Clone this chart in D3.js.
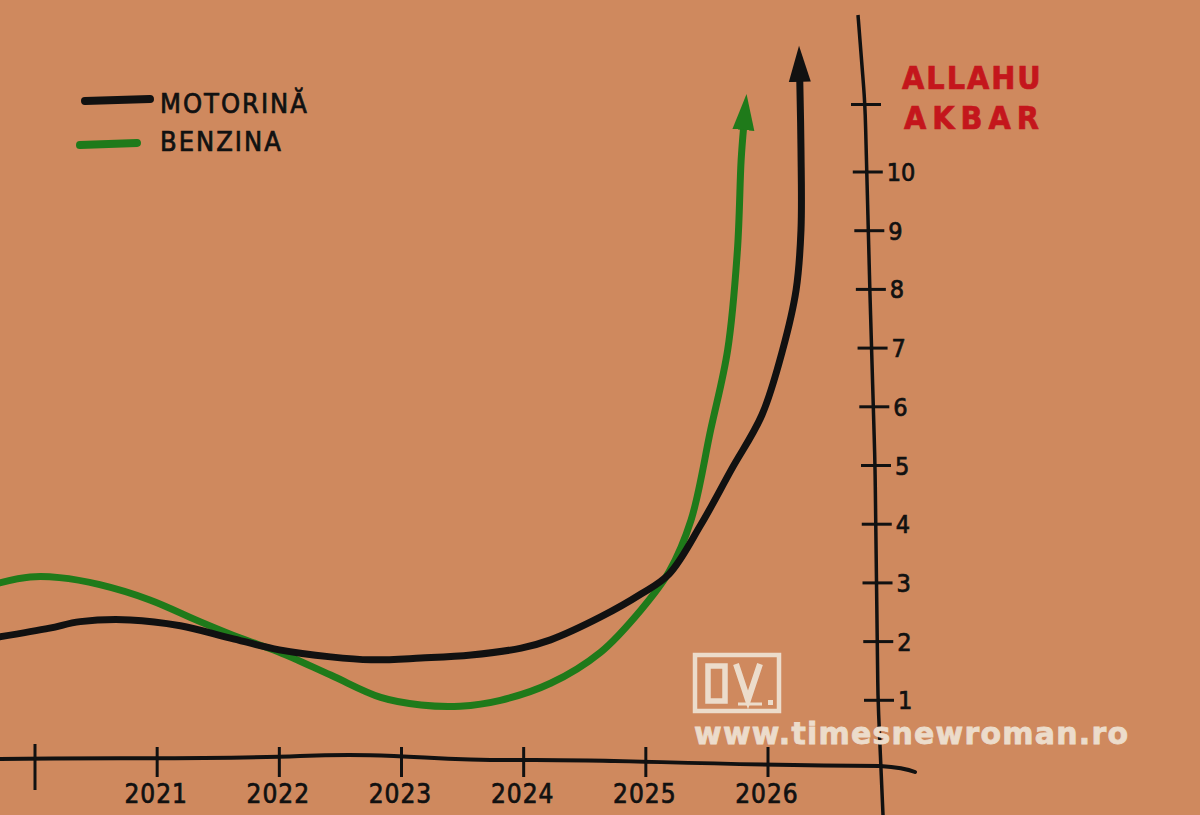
<!DOCTYPE html>
<html>
<head>
<meta charset="utf-8">
<script src="https://cdn.jsdelivr.net/npm/d3@7"></script>
<style>
  body { margin: 0; background: #cf895e; }
  svg { display: block; }
  .hand { font-family: "DejaVu Sans Condensed", "DejaVu Sans", sans-serif; }
  .hand text { stroke: currentColor; stroke-width: 0.7px; }
</style>
</head>
<body>
<div id="chart"></div>
<script>
const yearTicks = [2020, 2021, 2022, 2023, 2024, 2025, 2026];
const yearLabels = ["", "2021", "2022", "2023", "2024", "2025", "2026"];
const valueTicks = [1, 2, 3, 4, 5, 6, 7, 8, 9, 10, 11.15];
const valueLabels = ["1", "2", "3", "4", "5", "6", "7", "8", "9", "10", ""];

const motorinaYears = [2019.71, 2020.12, 2020.37, 2020.78, 2021.19, 2021.6, 2022.0, 2022.42, 2022.75,
  2023.16, 2023.57, 2023.98, 2024.22, 2024.63, 2024.96, 2025.19, 2025.45, 2025.7, 2025.95,
  2026.12, 2026.23, 2026.27, 2026.27, 2026.26];
const motorinaValues = [2.08, 2.23, 2.34, 2.37, 2.27, 2.06, 1.86, 1.74, 1.69, 1.72, 1.77, 1.89, 2.03,
  2.42, 2.81, 3.15, 3.99, 4.93, 5.86, 6.97, 7.99, 9.01, 10.38, 11.57];

const benzinaYears = [2019.71, 2019.96, 2020.2, 2020.53, 2020.94, 2021.35, 2021.68, 2022.0, 2022.42,
  2022.83, 2023.16, 2023.48, 2023.81, 2024.22, 2024.63, 2024.96, 2025.19, 2025.37, 2025.53,
  2025.67, 2025.75, 2025.78, 2025.8];
const benzinaValues = [3.0, 3.1, 3.09, 2.97, 2.71, 2.34, 2.06, 1.82, 1.43, 1.05, 0.92, 0.9, 1.0,
  1.29, 1.82, 2.54, 3.19, 4.07, 5.6, 6.97, 8.68, 10.2, 10.75];

const seriesNames = ["MOTORINĂ", "BENZINA"];
const seriesColors = ["#111111", "#1f7a1a"];

/* Chart parameters. */
const chartParams = { width: 1200, height: 815 };

const svg = d3.select("#chart")
  .append("svg")
  .attr("width", chartParams.width)
  .attr("height", chartParams.height);

svg.append("rect")
  .attr("width", chartParams.width)
  .attr("height", chartParams.height)
  .attr("fill", "#cf895e");

/* Scales: years left to right, price bottom to top. */
const x = d3.scaleLinear().domain([2020, 2026]).range([35, 768]);
const y = d3.scaleLinear().domain([0, 10]).range([759, 172]);

/* The y axis leans and bends a little, like a hand-drawn stroke. */
const axisXAt = d3.scaleLinear()
  .domain([15, 104, 295, 464, 700, 815])
  .range([858, 865, 870, 875, 878, 883]);

/* Arrow heads for the runaway curves. */
const defs = svg.append("defs");
seriesColors.forEach((c, i) => {
  defs.append("marker")
    .attr("id", "arrow" + i)
    .attr("markerUnits", "userSpaceOnUse")
    .attr("viewBox", "0 0 40 24")
    .attr("refX", 2)
    .attr("refY", 12)
    .attr("markerWidth", 40)
    .attr("markerHeight", 24)
    .attr("orient", "auto")
    .append("path")
    .attr("d", "M0,1 L36,12 L0,23 Z")
    .attr("fill", c);
});

/* X axis: a wobbly baseline. */
svg.append("path")
  .attr("d", "M0,759 C120,757 200,760 300,756 S430,761 520,760 S700,765 880,766 C895,767 905,768 915,772")
  .attr("fill", "none")
  .attr("stroke", "#111")
  .attr("stroke-width", 4)
  .attr("stroke-linecap", "round");

const xTicks = svg.append("g").attr("class", "hand").attr("color", "#111");
xTicks.selectAll("line")
  .data(yearTicks)
  .enter()
  .append("line")
  .attr("x1", d => x(d))
  .attr("x2", d => x(d))
  .attr("y1", (d, i) => i === 0 ? 744 : 747)
  .attr("y2", (d, i) => i === 0 ? 790 : 777)
  .attr("stroke", "#111")
  .attr("stroke-width", 3);
xTicks.selectAll("text")
  .data(yearTicks)
  .enter()
  .append("text")
  .attr("x", d => x(d) - 1)
  .attr("y", 803)
  .attr("text-anchor", "middle")
  .attr("font-size", 26)
  .attr("letter-spacing", 1)
  .attr("fill", "#111")
  .text((d, i) => yearLabels[i]);

/* Y axis. */
svg.append("path")
  .datum(d3.range(15, 816, 20))
  .attr("d", d3.line().x(d => axisXAt(d)).y(d => d).curve(d3.curveBasis))
  .attr("fill", "none")
  .attr("stroke", "#111")
  .attr("stroke-width", 3.5);

const yTicks = svg.append("g").attr("class", "hand").attr("color", "#111");
yTicks.selectAll("line")
  .data(valueTicks)
  .enter()
  .append("line")
  .attr("x1", d => axisXAt(y(d)) - 14)
  .attr("x2", d => axisXAt(y(d)) + 16)
  .attr("y1", d => y(d))
  .attr("y2", d => y(d))
  .attr("stroke", "#111")
  .attr("stroke-width", 3);
yTicks.selectAll("text")
  .data(valueTicks)
  .enter()
  .append("text")
  .attr("x", d => axisXAt(y(d)) + 20)
  .attr("y", d => y(d) + 9)
  .attr("font-size", 25)
  .attr("fill", "#111")
  .text((d, i) => valueLabels[i]);

/* The top tick gets its own label. */
const shout = svg.append("g").attr("class", "hand").attr("color", "#c4161c");
shout.append("text")
  .attr("x", 902).attr("y", 89)
  .attr("font-size", 32)
  .attr("font-weight", "bold")
  .attr("letter-spacing", 2)
  .attr("fill", "#c4161c")
  .text("ALLAHU");
shout.append("text")
  .attr("x", 904).attr("y", 129)
  .attr("font-size", 32)
  .attr("font-weight", "bold")
  .attr("letter-spacing", 6)
  .attr("fill", "#c4161c")
  .text("AKBAR");

/* Watermark. */
const wm = svg.append("g").attr("fill", "none").attr("stroke", "#ecdccb");
wm.append("rect").attr("x", 695).attr("y", 655).attr("width", 84).attr("height", 56).attr("stroke-width", 4.5);
wm.append("rect").attr("x", 708).attr("y", 666).attr("width", 17).attr("height", 35).attr("stroke-width", 5.5);
wm.append("path").attr("d", "M736,664 L748,700 L760,664").attr("stroke-width", 6);
wm.append("line").attr("x1", 738).attr("x2", 762).attr("y1", 704).attr("y2", 704).attr("stroke-width", 3);
wm.append("rect").attr("x", 768).attr("y", 700).attr("width", 5).attr("height", 5).attr("fill", "#ecdccb").attr("stroke", "none");
svg.append("text")
  .attr("x", 694).attr("y", 744)
  .attr("font-family", "'DejaVu Sans', sans-serif")
  .attr("font-weight", "bold")
  .attr("font-size", 30)
  .attr("letter-spacing", 1.2)
  .attr("fill", "#ecdccb")
  .attr("stroke", "#ecdccb")
  .attr("stroke-width", 0.8)
  .text("www.timesnewroman.ro");

/* Price curves. */
const series = [
  motorinaYears.map((d, i) => [d, motorinaValues[i]]),
  benzinaYears.map((d, i) => [d, benzinaValues[i]])
];
const line = d3.line()
  .x(d => x(d[0]))
  .y(d => y(d[1]))
  .curve(d3.curveCatmullRom.alpha(0.5));

svg.selectAll("path.series")
  .data([series[1], series[0]])
  .enter()
  .append("path")
  .attr("class", "series")
  .attr("d", line)
  .attr("fill", "none")
  .attr("stroke", (d, i) => seriesColors[1 - i])
  .attr("stroke-width", 7)
  .attr("stroke-linecap", "round")
  .attr("marker-end", (d, i) => "url(#arrow" + (1 - i) + ")");

/* Legend. */
const legend = svg.append("g").attr("class", "hand").attr("color", "#111");
const legendRows = [
  { x1: 85, x2: 150, ly: 101, ty: 113 },
  { x1: 80, x2: 137, ly: 145, ty: 151 }
];
legend.selectAll("line")
  .data(legendRows)
  .enter()
  .append("line")
  .attr("x1", d => d.x1)
  .attr("x2", d => d.x2)
  .attr("y1", d => d.ly)
  .attr("y2", d => d.ly - 2)
  .attr("stroke", (d, i) => seriesColors[i])
  .attr("stroke-width", 8)
  .attr("stroke-linecap", "round");
legend.selectAll("text")
  .data(legendRows)
  .enter()
  .append("text")
  .attr("x", 160)
  .attr("y", d => d.ty)
  .attr("font-size", 27)
  .attr("letter-spacing", 2)
  .attr("fill", "#111")
  .text((d, i) => seriesNames[i]);
</script>
</body>
</html>
